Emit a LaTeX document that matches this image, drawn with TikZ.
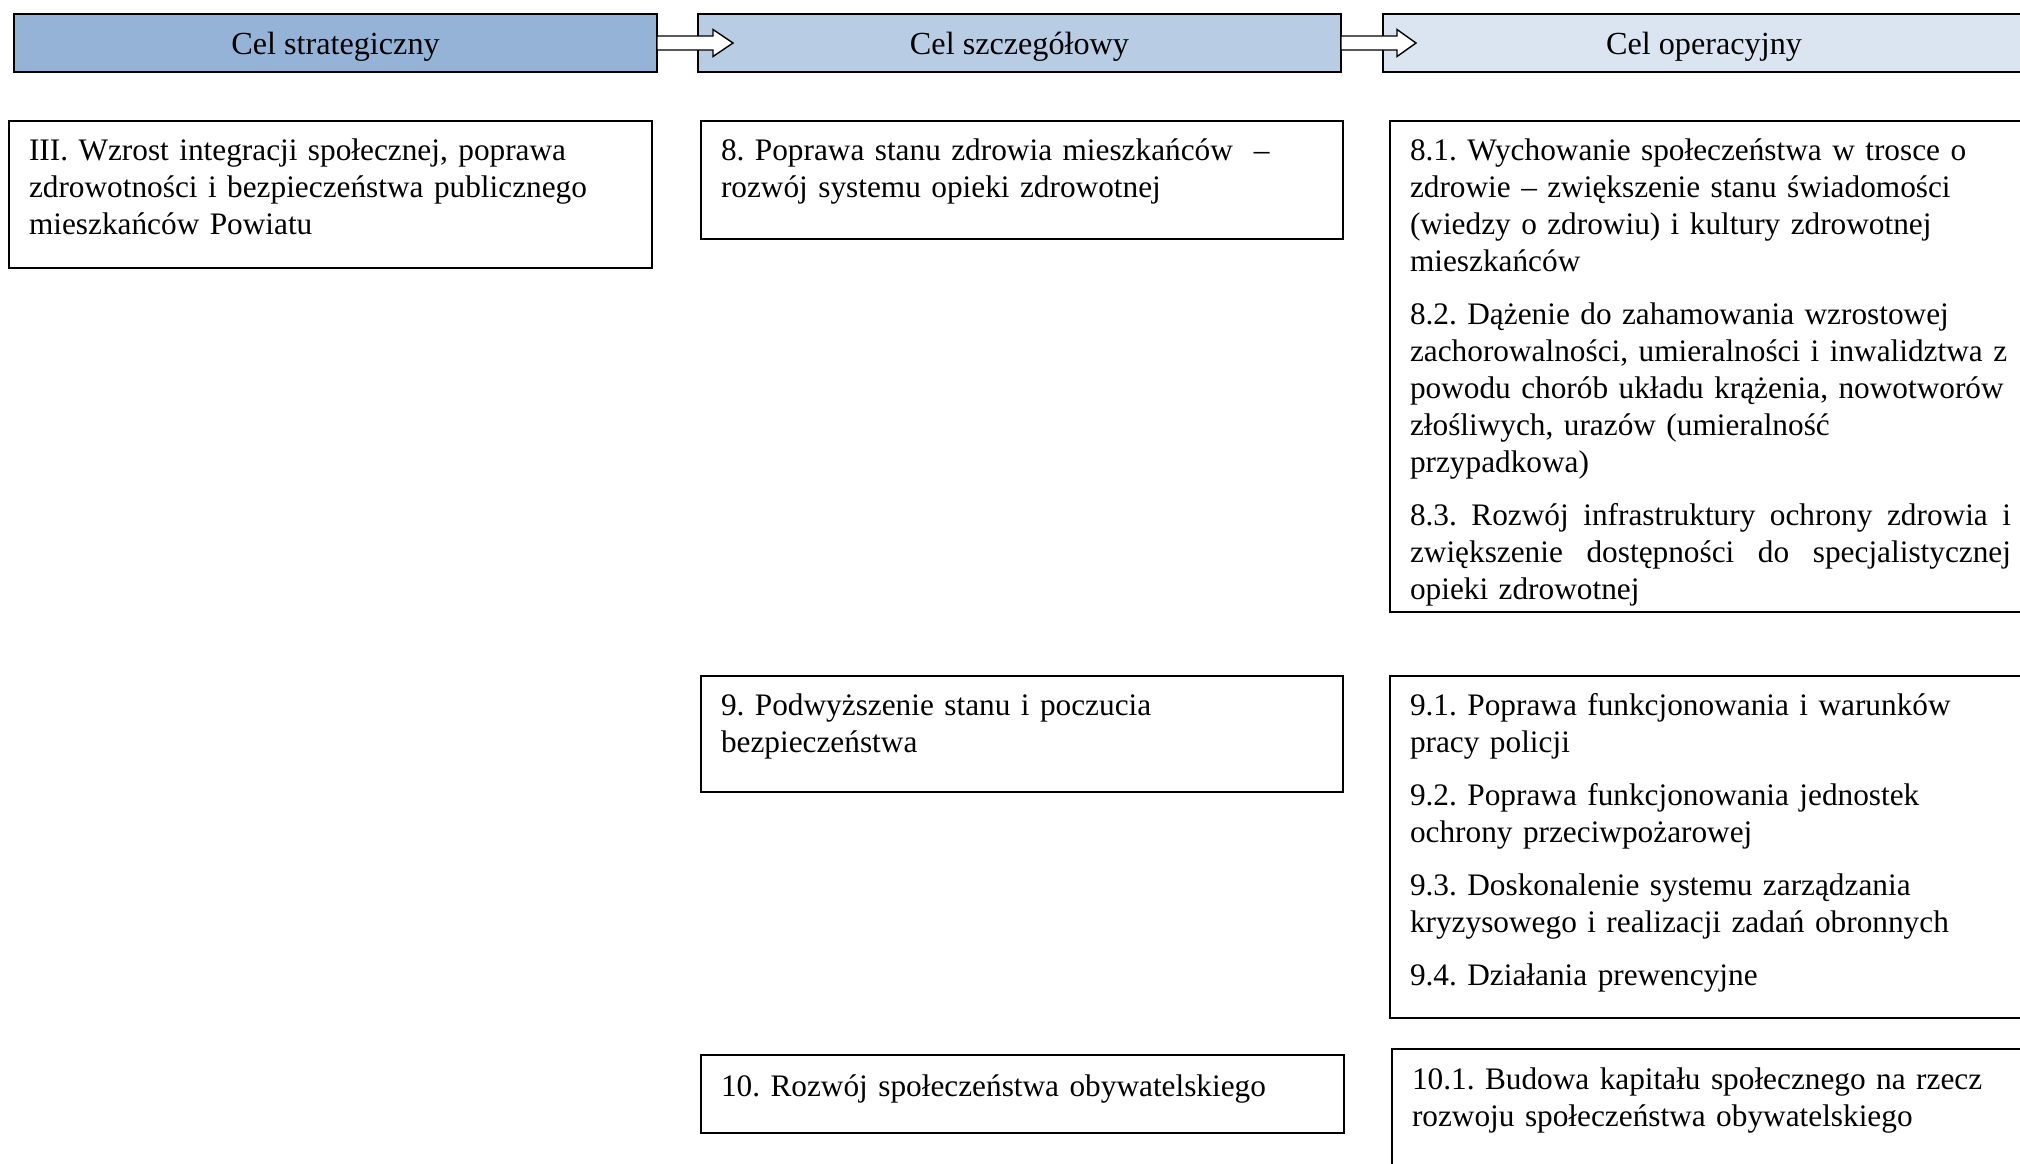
\documentclass[tikz,border=0pt]{standalone}
\usepackage{fontspec}
\setmainfont{Liberation Serif}
\usepackage{tikz}
\usetikzlibrary{positioning}
\definecolor{accentA}{HTML}{95B3D7}
\definecolor{accentB}{HTML}{B8CCE4}
\definecolor{accentC}{HTML}{DBE5F1}
\tikzset{
% header boxes, goal boxes and their texts
hdr/.style={rectangle, draw=black, minimum width=643, minimum height=58,
  anchor=north west, inner sep=0, outer sep=0, text height=26, text depth=3},
goal/.style={rectangle, draw=black, minimum width=643,
  anchor=north west, inner sep=0, outer sep=0},
goaltext/.style={inner sep=0, outer sep=0, text width=640, align=left,
  font=\fontsize{31.3}{37}\selectfont\frenchspacing, execute at begin node=\strut},
hollow/.style={draw=black, fill=white, line width=1.4pt, line join=miter}
}

\begin{document}
\frenchspacing
\begin{tikzpicture}[x=1pt, y=-1pt, line width=1.6pt, font=\fontsize{32.2}{37}\selectfont\frenchspacing]
  \clip (0,0) rectangle (2020,1163);

  % headers
  \node[hdr, fill=accentA] (strat) at (14,14) {Cel strategiczny};
  \node[hdr, fill=accentB] (szcz) at (698,14) {Cel szczegółowy};
  \node[hdr, fill=accentC, minimum width=642] (oper) at (1383,14) {Cel operacyjny};

  \draw[hollow] ([shift={(0,-7)}]strat.east) -- ++(56,0) -- ++(0,-6.5) -- ++(20,13.5)
    -- ++(-20,13.5) -- ++(0,-6.5) -- ++(-56,0) -- cycle;
  \draw[hollow] ([shift={(0,-7)}]szcz.east) -- ++(56,0) -- ++(0,-6.5) -- ++(19,13.5)
    -- ++(-19,13.5) -- ++(0,-6.5) -- ++(-56,0) -- cycle;

  % strategic goal
  \node[goal, minimum height=147] (celIII) at (9,121) {};
  \node[goaltext, below right=14pt and 20pt of celIII.north west] (celIIItxt)
    {III. Wzrost integracji społecznej, poprawa\\ zdrowotności i bezpieczeństwa publicznego\\ mieszkańców Powiatu};

  % detailed goals
  \node[goal, minimum width=642, minimum height=118] (cel8) at (701,121) {};
  \node[goaltext, below right=14pt and 20pt of cel8.north west] (cel8txt)
    {8. Poprawa stanu zdrowia mieszkańców\ \ –\\ rozwój systemu opieki zdrowotnej};

  \node[goal, minimum width=642, minimum height=116] (cel9) at (701,676) {};
  \node[goaltext, below right=14pt and 20pt of cel9.north west] (cel9txt)
    {9. Podwyższenie stanu i poczucia\\ bezpieczeństwa};

  \node[goal, minimum height=78] (cel10) at (701,1055) {};
  \node[goaltext, below right=16pt and 20pt of cel10.north west] (cel10txt)
    {10. Rozwój społeczeństwa obywatelskiego};

  % operational goals
  \node[goal, minimum width=642, minimum height=491] (op8) at (1390,121) {};
  \node[goaltext, below right=14pt and 20pt of op8.north west] (op8txt)
    {8.1. Wychowanie społeczeństwa w trosce o\\ zdrowie – zwiększenie stanu świadomości\\
    (wiedzy o zdrowiu) i kultury zdrowotnej\\ mieszkańców\\[16pt]
    8.2. Dążenie do zahamowania wzrostowej\\ zachorowalności, umieralności i inwalidztwa z\\
    powodu chorób układu krążenia, nowotworów\\ złośliwych, urazów (umieralność\\ przypadkowa)\\[16pt]
    \leavevmode\hbox to 601pt{\spaceskip=0.25em plus 1fil\relax 8.3. Rozwój infrastruktury ochrony zdrowia i}\\
    \leavevmode\hbox to 601pt{\spaceskip=0.25em plus 1fil\relax zwiększenie dostępności do specjalistycznej}\\ opieki zdrowotnej};

  \node[goal, minimum width=642, minimum height=342] (op9) at (1390,676) {};
  \node[goaltext, below right=14pt and 20pt of op9.north west] (op9txt)
    {9.1. Poprawa funkcjonowania i warunków\\ pracy policji\\[16pt]
    9.2. Poprawa funkcjonowania jednostek\\ ochrony przeciwpożarowej\\[16pt]
    9.3. Doskonalenie systemu zarządzania\\ kryzysowego i realizacji zadań obronnych\\[16pt]
    9.4. Działania prewencyjne};

  \node[goal, minimum width=642, minimum height=200] (op10) at (1392,1049) {};
  \node[goaltext, below right=15pt and 20pt of op10.north west] (op10txt)
    {10.1. Budowa kapitału społecznego na rzecz\\ rozwoju społeczeństwa obywatelskiego};
\end{tikzpicture}
\end{document}
